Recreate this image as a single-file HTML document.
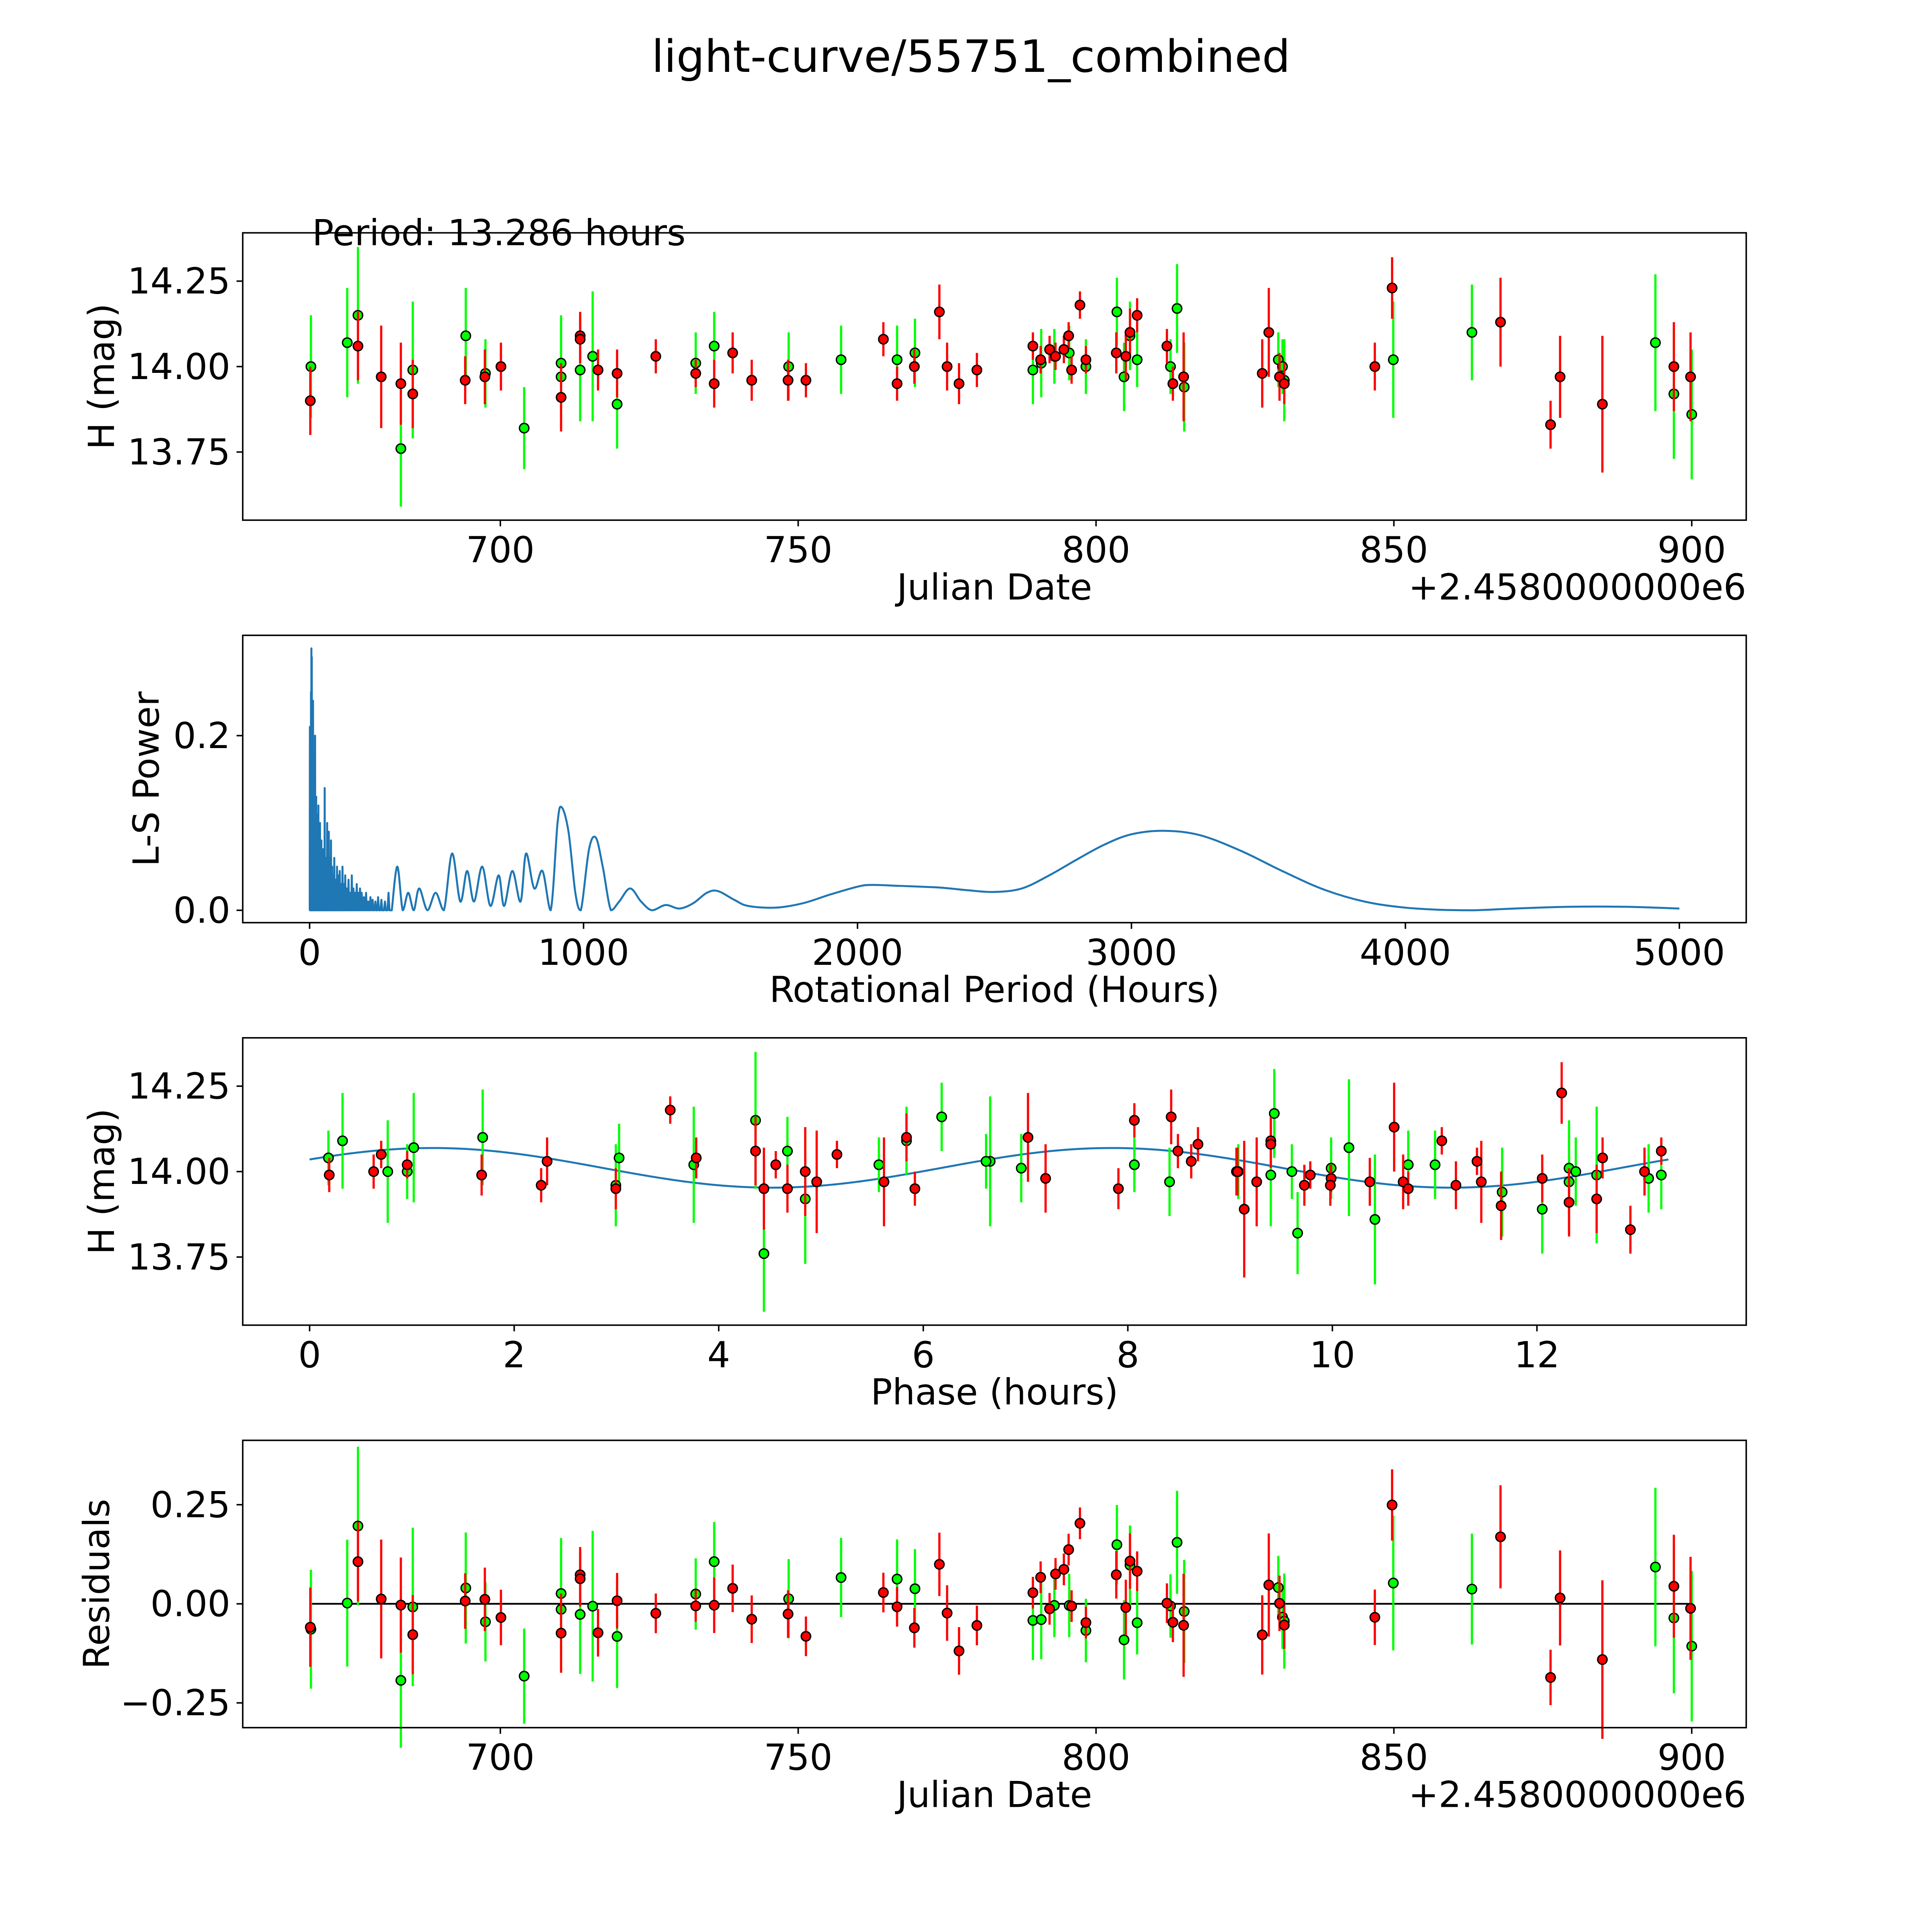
<!DOCTYPE html>
<html><head><meta charset="utf-8"><style>
html,body{margin:0;padding:0;background:#fff;overflow:hidden;width:100vw;height:100vh}
svg{display:block;width:100vw;height:100vh}
text{font-family:"DejaVu Sans","Liberation Sans",sans-serif;fill:#000}
</style></head><body>
<svg id="fig" viewBox="0 0 1560 1560" preserveAspectRatio="none" xmlns="http://www.w3.org/2000/svg">
<rect width="1560" height="1560" fill="#fff"/>
<text x="784" y="58" font-size="36" text-anchor="middle">light-curve/55751_combined</text>
</svg>
<script>
// ---- data: observations (date offset, mag, err) ----
const greenDates=[668.2,674.3,676.1,683.3,685.3,694.2,697.5,704.0,710.2,710.2,713.4,715.5,719.6,732.8,735.9,748.4,757.2,766.6,769.6,789.4,790.8,793.0,795.5,798.3,803.5,804.7,805.7,806.9,812.5,813.6,814.8,830.6,831.3,831.6,849.9,863.1,893.9,897.0,900.0];
const greenMags=[14.00,14.07,14.15,13.76,13.99,14.09,13.98,13.82,14.01,13.97,13.99,14.03,13.89,14.01,14.06,14.00,14.02,14.02,14.04,13.99,14.01,14.03,14.04,14.00,14.16,13.97,14.09,14.02,14.00,14.17,13.94,14.02,14.00,13.96,14.02,14.10,14.07,13.92,13.86];
const greenErrs=[0.15,0.16,0.2,0.17,0.2,0.14,0.1,0.12,0.14,0.15,0.15,0.19,0.13,0.09,0.1,0.1,0.1,0.1,0.1,0.1,0.1,0.08,0.08,0.08,0.1,0.1,0.1,0.08,0.08,0.13,0.13,0.08,0.08,0.12,0.17,0.14,0.2,0.19,0.19];
const redDates=[668.1,676.1,680.0,683.3,685.3,694.1,697.4,700.1,710.2,713.4,713.4,716.4,719.6,726.1,732.8,735.9,739.0,742.2,748.3,751.3,764.3,766.6,769.5,773.7,775.0,777.0,780.0,789.4,790.7,792.2,793.2,794.6,795.4,795.9,797.3,798.3,803.4,805.0,805.7,806.9,811.9,812.9,814.7,827.9,829.0,830.8,831.6,846.8,849.7,867.9,876.3,877.9,885.0,897.0,899.8];
const redMags=[13.90,14.06,13.97,13.95,13.92,13.96,13.97,14.00,13.91,14.09,14.08,13.99,13.98,14.03,13.98,13.95,14.04,13.96,13.96,13.96,14.08,13.95,14.00,14.16,14.00,13.95,13.99,14.06,14.02,14.05,14.03,14.05,14.09,13.99,14.18,14.02,14.04,14.03,14.10,14.15,14.06,13.95,13.97,13.98,14.10,13.97,13.95,14.00,14.23,14.13,13.83,13.97,13.89,14.00,13.97];
const redErrs=[0.1,0.1,0.15,0.12,0.1,0.07,0.08,0.07,0.1,0.07,0.07,0.06,0.07,0.05,0.04,0.07,0.06,0.06,0.06,0.05,0.05,0.05,0.05,0.08,0.07,0.06,0.05,0.04,0.04,0.04,0.04,0.04,0.04,0.04,0.04,0.04,0.06,0.07,0.07,0.05,0.05,0.05,0.13,0.1,0.13,0.07,0.06,0.07,0.09,0.13,0.07,0.12,0.2,0.13,0.13];
// model parameters
const periodHours=13.286;
const modelMean=14.011, modelAmp=0.058, modelPeakPhase=1.2;
// ---- periodogram ----
const spikePeriods=[1,3,5,6.5,8,9.5,11,12.5,14,15.5,17,18.5,20,22,24,26,28,30,32,34,36,38,40,43,46,49,52,55,58,61,64,67,70,74,78,82,86,90,95,100,105,110,115,120,125,130,136,142,148,154,160,166,172,178,184,190,198,206,214,222,230,240,250,262,275,288];
const spikePowers=[0.21,0.17,0.25,0.30,0.29,0.24,0.2,0.24,0.15,0.18,0.12,0.11,0.2,0.10,0.13,0.09,0.11,0.08,0.12,0.09,0.085,0.1,0.07,0.08,0.06,0.07,0.055,0.14,0.06,0.06,0.1,0.05,0.09,0.06,0.08,0.05,0.04,0.06,0.035,0.05,0.04,0.045,0.03,0.05,0.03,0.04,0.025,0.035,0.02,0.04,0.025,0.02,0.03,0.02,0.025,0.02,0.015,0.02,0.01,0.015,0.012,0.01,0.015,0.012,0.01,0.02];
const smoothPeriods=[300,320,340,360,380,400,430,460,490,520,550,575,600,630,660,690,710,740,770,790,820,850,880,905,920,945,970,990,1020,1045,1070,1100,1130,1170,1210,1250,1300,1350,1400,1450,1490,1550,1600,1700,1800,1900,2000,2050,2150,2300,2400,2500,2600,2700,2800,2900,3000,3120,3250,3400,3550,3700,3850,4000,4150,4250,4400,4600,4800,5000];
const smoothPowers=[0.0,0.05,0.0,0.02,0.0,0.025,0.0,0.02,0.0,0.065,0.01,0.045,0.01,0.05,0.005,0.04,0.005,0.045,0.01,0.065,0.025,0.045,0.0,0.1,0.118,0.09,0.02,0.0,0.07,0.083,0.05,0.0,0.01,0.025,0.01,0.0,0.006,0.002,0.008,0.02,0.022,0.012,0.005,0.003,0.008,0.018,0.027,0.029,0.028,0.026,0.023,0.021,0.025,0.04,0.058,0.075,0.087,0.091,0.086,0.068,0.045,0.024,0.01,0.003,0.0003,0,0.002,0.004,0.004,0.002];
// tick labels
const dateTicks=[700,750,800,850,900];
const magTicks=[13.75,14.00,14.25];
const powerTicks=[0.0,0.2];
const periodTicks=[0,1000,2000,3000,4000,5000];
const phaseTicks=[0,2,4,6,8,10,12];
const residTicks=[-0.25,0.00,0.25];

const NS="http://www.w3.org/2000/svg";
const svg=document.getElementById('fig');
function mk(tag,attrs,parent){const e=document.createElementNS(NS,tag);for(const k in attrs)e.setAttribute(k,attrs[k]);(parent||svg).appendChild(e);return e;}
function lin(d0,d1,r0,r1){return v=>r0+(v-d0)*(r1-r0)/(d1-d0);}
function model(ph){return modelMean+modelAmp*Math.cos(2*Math.PI*2*(ph-modelPeakPhase)/periodHours);}
// choose epoch that best fits the model (least squares)
const allD=greenDates.concat(redDates), allM=greenMags.concat(redMags);
let epoch=allD[0], best=1e9;
for(let k=0;k<400;k++){const ep=allD[0]-k*periodHours/24/400;let s=0;
  allD.forEach((t,i)=>{let p=((t-ep)*24)%periodHours;if(p<0)p+=periodHours;const r=allM[i]-model(p);s+=r*r;});
  if(s<best){best=s;epoch=ep;}}
function phaseOf(t){let p=((t-epoch)*24)%periodHours;if(p<0)p+=periodHours;return p;}

const L=196,R=1410;
function panel(name,top,xs,ys,xt,yt,xfmt,yfmt,xlabel,ylabel,offset){
  const g=mk('g',{});
  
  
  const bottom=top+232;
  xt.forEach(v=>{const x=xs(v);
    const t=mk('line',{x1:x,x2:x,y1:bottom,y2:bottom+5,stroke:'#000','stroke-width':1.2},g);
    
    
    const l=mk('text',{x:x,y:bottom+34,'font-size':29,'text-anchor':'middle'},g);l.textContent=xfmt(v);
    
    });
  yt.forEach(v=>{const y=ys(v);
    const t=mk('line',{x1:L-5,x2:L,y1:y,y2:y,stroke:'#000','stroke-width':1.2},g);
    
    
    const l=mk('text',{x:L-10,y:y+10,'font-size':29,'text-anchor':'end'},g);l.textContent=yfmt(v);
    
    });
  const xl=mk('text',{x:803,y:bottom+64,'font-size':29,'text-anchor':'middle'},g);xl.textContent=xlabel;
  
  
  const yl=mk('text',{x:0,y:0,'font-size':29,'text-anchor':'middle',transform:`translate(${ylabel[1]},${top+116}) rotate(-90)`},g);yl.textContent=ylabel[0];
  
  
  if(offset){const o=mk('text',{x:R,y:bottom+64,'font-size':29,'text-anchor':'end'},g);o.textContent=offset;
    
    }
  return g;
}
function frame(top){const f=mk('rect',{x:L,y:top,width:R-L,height:232,fill:'none',stroke:'#000','stroke-width':1.2});
  
  }
function points(g,xs,ys,xsArr,ysArr,errs,color){
  xsArr.forEach((xv,i)=>{const x=xs(xv);
    const e=mk('line',{x1:x,x2:x,y1:ys(ysArr[i]+errs[i]),y2:ys(ysArr[i]-errs[i]),stroke:color,'stroke-width':1.8},g);
    
    });
  xsArr.forEach((xv,i)=>{const x=xs(xv),y=ys(ysArr[i]);
    const c=mk('circle',{cx:x,cy:y,r:3.8,fill:color,stroke:'#000','stroke-width':1.1},g);
    
    });
}
const f2=v=>v.toFixed(2);
// Panel 1
{const top=188;const xs=lin(700,900,404,1366),ys=lin(13.75,14.25,365,227);
 const g=panel('raw-light-curve-panel',top,xs,ys,dateTicks,magTicks,v=>String(v),f2,'Julian Date',['H (mag)',92],'+2.4580000000e6');
 points(g,xs,ys,greenDates,greenMags,greenErrs,'#00ff00');
 points(g,xs,ys,redDates,redMags,redErrs,'#ff0000');
 const pt=mk('text',{x:252,y:198,'font-size':29},g);pt.textContent='Period: 13.286 hours';
 
 
 frame(top);}
// Panel 2
{const top=513;const xs=lin(0,5000,250,1356),ys=lin(0,0.2,735,594);
 const g=panel('periodogram-panel',top,xs,ys,periodTicks,powerTicks,v=>String(v),v=>v.toFixed(1),'Rotational Period (Hours)',['L-S Power',128],null);
 let d=`M${xs(0)},${ys(0)}`;
 spikePeriods.forEach((p,i)=>{const hw=Math.max(0.6,p*0.012);d+=` L${xs(p-hw)},${ys(0)} L${xs(p)},${ys(spikePowers[i])} L${xs(p+hw)},${ys(0)}`;});
 const px=smoothPeriods.map(xs), py=smoothPowers.map(ys);
 d+=` L${px[0]},${py[0]}`;
 for(let i=0;i<px.length-1;i++){
   const x0=px[Math.max(0,i-1)],y0=py[Math.max(0,i-1)],x1=px[i],y1=py[i],x2=px[i+1],y2=py[i+1],x3=px[Math.min(px.length-1,i+2)],y3=py[Math.min(px.length-1,i+2)];
   let c1y=y1+(y2-y0)/6, c2y=y2-(y3-y1)/6;
   const lo=ys(0); c1y=Math.min(c1y,lo); c2y=Math.min(c2y,lo);
   d+=` C${x1+(x2-x0)/6},${c1y} ${x2-(x3-x1)/6},${c2y} ${x2},${y2}`;
 }
 const pl=mk('path',{d:d,fill:'none',stroke:'#1f77b4','stroke-width':1.6,'stroke-linejoin':'round'},g);
 
 
 frame(top);}
// Panel 3
{const top=838;const xs=lin(0,12,250,1241),ys=lin(13.75,14.25,1015,877);
 const g=panel('phase-folded-panel',top,xs,ys,phaseTicks,magTicks,v=>String(v),f2,'Phase (hours)',['H (mag)',92],null);
 let d='';for(let i=0;i<=200;i++){const p=periodHours*i/200;d+=(i?' L':'M')+xs(p)+','+ys(model(p));}
 const m=mk('path',{d:d,fill:'none',stroke:'#1f77b4','stroke-width':1.6},g);
 
 
 points(g,xs,ys,greenDates.map(phaseOf),greenMags,greenErrs,'#00ff00');
 points(g,xs,ys,redDates.map(phaseOf),redMags,redErrs,'#ff0000');
 frame(top);}
// Panel 4
{const top=1163;const xs=lin(700,900,404,1366),ys=lin(0,0.25,1295,1215);
 const g=panel('residuals-panel',top,xs,ys,dateTicks,residTicks,v=>String(v),v=>(v<0?'\u2212':'')+Math.abs(v).toFixed(2),'Julian Date',['Residuals',88],'+2.4580000000e6');
 const zl=mk('line',{x1:xs(668),x2:xs(900),y1:ys(0),y2:ys(0),stroke:'#000','stroke-width':1.4},g);
 
 
 points(g,xs,ys,greenDates,greenMags.map((m,i)=>m-model(phaseOf(greenDates[i]))),greenErrs,'#00ff00');
 points(g,xs,ys,redDates,redMags.map((m,i)=>m-model(phaseOf(redDates[i]))),redErrs,'#ff0000');
 frame(top);}
</script>
</body></html>
